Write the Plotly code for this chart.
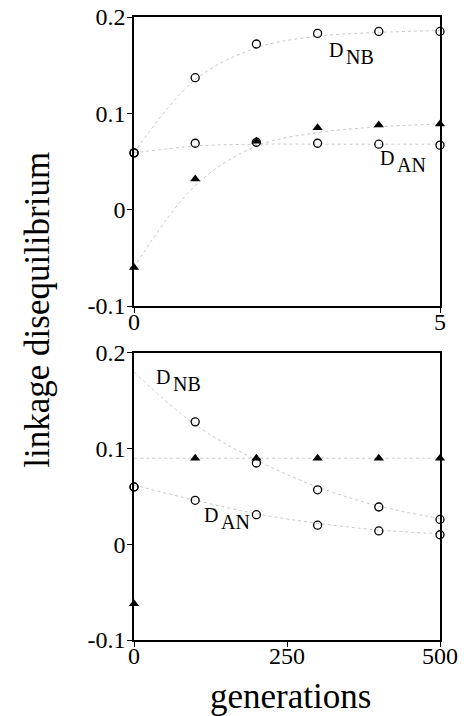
import plotly.graph_objects as go

# ---------- data: top panel (generations 0-5) ----------
gen_top = [0, 1, 2, 3, 4, 5]
dnb_top = [0.059, 0.137, 0.172, 0.183, 0.185, 0.185]
dan_top = [0.059, 0.069, 0.070, 0.069, 0.068, 0.067]
tri_top = [-0.060, 0.032, 0.071, 0.085, 0.088, 0.089]

# theoretical curves (dotted) top
curve_nb_top = [0.059, 0.135, 0.168, 0.180, 0.184, 0.186]
curve_an_top = [0.059, 0.066, 0.068, 0.068, 0.068, 0.068]
curve_tri_top = [-0.060, 0.025, 0.066, 0.080, 0.086, 0.089]

# ---------- data: bottom panel (generations 0-500) ----------
gen_bot = [0, 100, 200, 300, 400, 500]
dnb_bot = [0.060, 0.128, 0.085, 0.057, 0.039, 0.026]
dan_bot = [0.060, 0.046, 0.031, 0.020, 0.014, 0.010]
tri_bot = [-0.062, 0.090, 0.090, 0.090, 0.090, 0.090]

curve_nb_bot = [0.180, 0.125, 0.088, 0.060, 0.040, 0.027]
curve_an_bot = [0.062, 0.046, 0.032, 0.022, 0.015, 0.011]
curve_tri_bot = [0.090, 0.090, 0.090, 0.090, 0.090, 0.090]

ytick_vals = [0.2, 0.1, 0, -0.1]
ytick_text = ["0.2", "0.1", "0", "-0.1"]

FONT = "Liberation Serif"
dot_line = dict(color="#c8c8c8", width=1, dash="dot", shape="spline")
circ = dict(symbol="circle-open", size=8, color="black", line=dict(width=1.3, color="black"))
tri = dict(symbol="triangle-up", size=9, color="black")

fig = go.Figure()

def add_panel(x, nb, an, tr, cnb, can, ctr, xa, ya):
    for c in (cnb, can, ctr):
        fig.add_trace(go.Scatter(x=x, y=c, mode="lines", line=dot_line,
                                 xaxis=xa, yaxis=ya, showlegend=False, hoverinfo="skip"))
    fig.add_trace(go.Scatter(x=x, y=tr, mode="markers", marker=tri,
                             xaxis=xa, yaxis=ya, showlegend=False, cliponaxis=False))
    fig.add_trace(go.Scatter(x=x, y=nb, mode="markers", marker=circ,
                             xaxis=xa, yaxis=ya, showlegend=False, cliponaxis=False))
    fig.add_trace(go.Scatter(x=x, y=an, mode="markers", marker=circ,
                             xaxis=xa, yaxis=ya, showlegend=False, cliponaxis=False))

add_panel(gen_top, dnb_top, dan_top, tri_top, curve_nb_top, curve_an_top, curve_tri_top, "x", "y")
add_panel(gen_bot, dnb_bot, dan_bot, tri_bot, curve_nb_bot, curve_an_bot, curve_tri_bot, "x2", "y2")

axis_common = dict(showline=True, linecolor="black", linewidth=1.5, mirror=True,
                   ticks="outside", ticklen=5, tickwidth=1.2, tickcolor="black",
                   showgrid=False, zeroline=False, automargin=False,
                   tickfont=dict(family=FONT, size=24, color="black"))

fig.update_layout(
    width=468, height=716,
    margin=dict(l=134, r=28, t=17, b=76),
    paper_bgcolor="white", plot_bgcolor="white",
    font=dict(family=FONT, color="black"),
    xaxis=dict(domain=[0, 1], range=[0, 5], tickvals=[0, 5], anchor="y",
               ticklabelstandoff=-12, **axis_common),
    yaxis=dict(domain=[0.536, 1], range=[-0.1, 0.2], tickvals=ytick_vals, ticktext=ytick_text,
               anchor="x", ticklabelstandoff=-3, **axis_common),
    xaxis2=dict(domain=[0, 1], range=[0, 500], tickvals=[0, 250, 500], anchor="y2",
                ticklabelstandoff=-12, **axis_common),
    yaxis2=dict(domain=[0, 0.4607], range=[-0.1, 0.2], tickvals=ytick_vals, ticktext=ytick_text,
                anchor="x2", ticklabelstandoff=-3, **axis_common),
)

lab_font = dict(family=FONT, size=20, color="black")

def label(main, sub, x, y, xref, yref):
    fig.add_annotation(x=x, y=y, xref=xref, yref=yref, text=main, showarrow=False,
                       font=lab_font, xanchor="right", yanchor="middle", xshift=0, yshift=3)
    fig.add_annotation(x=x, y=y, xref=xref, yref=yref, text=sub, showarrow=False,
                       font=lab_font, xanchor="left", yanchor="middle", xshift=-1, yshift=-4)

label("D", "NB", 3.44, 0.163, "x", "y")
label("D", "AN", 4.28, 0.051, "x", "y")
label("D", "NB", 62, 0.172, "x2", "y2")
label("D", "AN", 140, 0.027, "x2", "y2")

fig.add_annotation(text="linkage disequilibrium", xref="paper", yref="paper",
                   x=-0.314, y=0.53, textangle=-90, showarrow=False,
                   font=dict(family=FONT, size=35, color="black"),
                   xanchor="center", yanchor="middle")
fig.add_annotation(text="generations", xref="paper", yref="paper",
                   x=0.51, y=-0.09, showarrow=False,
                   font=dict(family=FONT, size=35, color="black"),
                   xanchor="center", yanchor="middle")

fig.write_html("out.html", config={"displayModeBar": False},
               post_script="document.body.style.margin='0';document.body.style.padding='0';")
